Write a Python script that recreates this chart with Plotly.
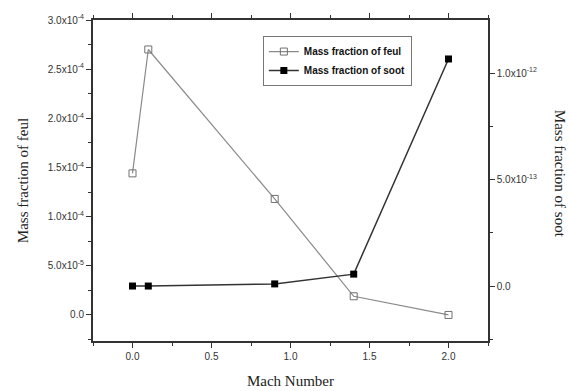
import plotly.graph_objects as go

mach = [0.0, 0.1, 0.9, 1.4, 2.0]
feul = [1.44e-4, 2.70e-4, 1.18e-4, 0.19e-4, 0.0]
soot = [0.0, 0.0, 0.01e-12, 0.056e-12, 1.066e-12]

x_ticks = [0.0, 0.5, 1.0, 1.5, 2.0]
x_ticklabels = ["0.0", "0.5", "1.0", "1.5", "2.0"]
x_minor = [-0.25, 0.25, 0.75, 1.25, 1.75, 2.25]

y1_ticks = [0.0, 0.5e-4, 1.0e-4, 1.5e-4, 2.0e-4, 2.5e-4, 3.0e-4]
y1_ticklabels = ["0.0", "5.0x10<sup>-5</sup>", "1.0x10<sup>-4</sup>", "1.5x10<sup>-4</sup>",
                 "2.0x10<sup>-4</sup>", "2.5x10<sup>-4</sup>", "3.0x10<sup>-4</sup>"]
y1_minor = [-0.25e-4, 0.25e-4, 0.75e-4, 1.25e-4, 1.75e-4, 2.25e-4, 2.75e-4]

y2_ticks = [0.0, 0.5e-12, 1.0e-12]
y2_ticklabels = ["0.0", "5.0x10<sup>-13</sup>", "1.0x10<sup>-12</sup>"]
y2_minor = [-0.25e-12, 0.25e-12, 0.75e-12, 1.25e-12]

fig = go.Figure()
fig.add_trace(go.Scatter(
    x=mach, y=feul, name="Mass fraction of feul", mode="lines+markers",
    line=dict(color="#8a8a8a", width=1.2),
    marker=dict(symbol="square-open", size=7, color="#707070", line=dict(width=1)),
    yaxis="y"))
fig.add_trace(go.Scatter(
    x=mach, y=soot, name="Mass fraction of soot", mode="lines+markers",
    line=dict(color="#333333", width=1.5),
    marker=dict(symbol="square", size=7, color="#000000"),
    yaxis="y2"))

tickfont = dict(family="Liberation Sans, Arial", size=10, color="#333")
fig.update_layout(
    width=570, height=391,
    margin=dict(l=93, r=82, t=20, b=50),
    paper_bgcolor="white", plot_bgcolor="white",
    showlegend=True,
    legend=dict(x=0.43, y=0.95, xanchor="left", yanchor="top",
                bgcolor="white", bordercolor="#777", borderwidth=1,
                font=dict(family="Liberation Sans, Arial", size=10, color="#111", weight="bold"),
                tracegroupgap=0, itemwidth=30),
    xaxis=dict(range=[-0.25, 2.25], tickmode="array", tickvals=x_ticks, ticktext=x_ticklabels,
               ticks="outside", ticklen=5, tickcolor="#333", showline=True, linecolor="#333",
               linewidth=1.5, mirror="ticks", showgrid=False, zeroline=False, tickfont=tickfont,
               automargin=False,
               minor=dict(tickvals=x_minor, ticks="outside", ticklen=3, tickcolor="#333"),
               title=dict(text="Mach Number", font=dict(family="Liberation Serif, Times New Roman", size=15, color="#222"))),
    yaxis=dict(range=[-0.265e-4, 3.0e-4], tickmode="array", tickvals=y1_ticks, ticktext=y1_ticklabels,
               ticks="outside", ticklen=5, tickcolor="#333", showline=True, linecolor="#333",
               linewidth=2, showgrid=False, zeroline=False, tickfont=tickfont,
               automargin=False,
               minor=dict(tickvals=y1_minor, ticks="outside", ticklen=3, tickcolor="#333"),
               title=dict(text="Mass fraction of feul", font=dict(family="Liberation Serif, Times New Roman", size=15, color="#222"))),
    yaxis2=dict(range=[-0.258e-12, 1.249e-12], overlaying="y", side="right",
                tickmode="array", tickvals=y2_ticks, ticktext=y2_ticklabels,
                ticks="outside", ticklen=5, tickcolor="#333", showline=True, linecolor="#333",
                linewidth=1.5, showgrid=False, zeroline=False, tickfont=tickfont,
                automargin=False,
                minor=dict(tickvals=y2_minor, ticks="outside", ticklen=3, tickcolor="#333")),
    annotations=[dict(text="Mass fraction of soot", textangle=90, xref="paper", yref="paper",
                      x=1.183, y=0.52, xanchor="center", yanchor="middle", showarrow=False,
                      font=dict(family="Liberation Serif, Times New Roman", size=15, color="#222"))],
)

fig.write_html("out.html")
